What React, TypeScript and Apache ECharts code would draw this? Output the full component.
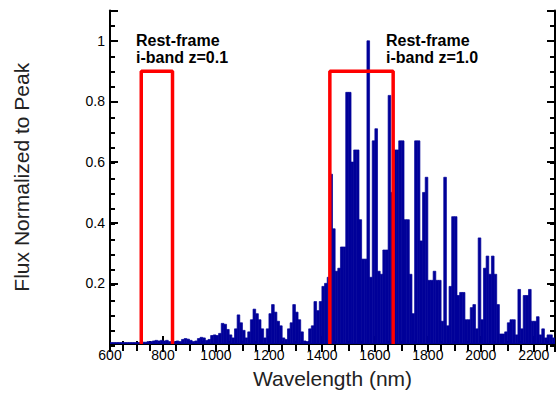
import React, { useEffect, useRef } from "react";
import * as echarts from "echarts";

// Histogram: bins of 10 nm starting at 600 nm
const binStartNm = 600;
const binWidthNm = 10;
const fluxValues = [
  0.005, 0.005, 0.005, 0.005, 0.005, 0.005, 0.005, 0.005, 0.005, 0.005, 0.005, 0.005,
  0.006, 0.006, 0.008, 0.008, 0.01, 0.012, 0.01, 0.012, 0.01, 0.012, 0.008, 0.006, 0.008, 0.01, 0.008,
  0.015, 0.018, 0.016, 0.012, 0.008, 0.01, 0.018, 0.022, 0.02, 0.012, 0.015, 0.028, 0.03,
  0.028, 0.035, 0.068, 0.065, 0.048, 0.03, 0.02, 0.05, 0.096, 0.07,
  0.045, 0.02, 0.04, 0.08, 0.115, 0.1, 0.08, 0.05, 0.02, 0.05,
  0.1, 0.13, 0.105, 0.075, 0.06, 0.02, 0.015, 0.05, 0.07, 0.13,
  0.105, 0.08, 0.04, 0.01, 0.008, 0.05, 0.06, 0.14, 0.11, 0.14,
  0.19, 0.2, 0.22, 0.56, 0.38, 0.24, 0.25, 0.32, 0.32, 0.83,
  0.83, 0.6, 0.64, 0.64, 0.41, 0.28, 0.28, 1.0, 0.22, 0.67,
  0.71, 0.24, 0.23, 0.31, 0.31, 0.82, 0.5, 0.64, 0.64, 0.67,
  0.67, 0.41, 0.41, 0.23, 0.1, 0.67, 0.67, 0.34, 0.5, 0.55,
  0.21, 0.21, 0.24, 0.21, 0.21, 0.075, 0.55, 0.06, 0.19, 0.42,
  0.42, 0.16, 0.17, 0.17, 0.08, 0.08, 0.12, 0.13, 0.05, 0.35,
  0.08, 0.25, 0.29, 0.23, 0.29, 0.23, 0.13, 0.033, 0.033, 0.04,
  0.07, 0.08, 0.08, 0.03, 0.18, 0.05, 0.16, 0.16, 0.18, 0.075,
  0.075, 0.09, 0.03, 0.05, 0.02, 0.03, 0.03, 0.02,
];

// Rest-frame i-band windows [start nm, end nm, height]
const bandZ01 = [718, 836, 0.9];
const bandZ10 = [1430, 1669, 0.9];
const bandLabels = ["Rest-frame\ni-band z=0.1", "Rest-frame\ni-band z=1.0"];

const xMin = 600;
const xMax = 2280;
const yMin = 0;
const yMax = 1.1;

const FONT = "'Liberation Sans', Arial, Helvetica, sans-serif";

function boxPoints(b: number[]) {
  return [
    [b[0], 0],
    [b[0], b[2]],
    [b[1], b[2]],
    [b[1], 0],
  ];
}

export default function App() {
  const ref = useRef<HTMLDivElement>(null);

  useEffect(() => {
    if (!ref.current) return;
    const chart = echarts.init(ref.current, undefined, { renderer: "svg" });
    const bins = fluxValues.map((v, i) => [binStartNm + i * binWidthNm, v]);

    const gridRect = { left: 110, right: 1, top: 10.5, bottom: 48 };
    const line = { show: true, lineStyle: { color: "#000", width: 2 } };
    const majorTick = (len: number) => ({
      show: true,
      inside: true,
      length: len,
      lineStyle: { color: "#000", width: 2 },
    });

    const option: any = {
      animation: false,
      backgroundColor: "#fff",
      grid: [
        { ...gridRect, containLabel: false },
        { ...gridRect, containLabel: false },
      ],
      xAxis: [
        {
          gridIndex: 0,
          type: "value",
          position: "bottom",
          min: xMin,
          max: xMax,
          interval: 200,
          axisLine: line,
          axisTick: majorTick(8),
          splitLine: { show: false },
          axisLabel: {
            show: true,
            margin: 4,
            color: "#000",
            fontSize: 14,
            fontFamily: FONT,
            showMaxLabel: false,
            formatter: (v: number) => (v > 2200 ? "" : String(v)),
          },
          name: "Wavelength (nm)",
          nameLocation: "middle",
          nameGap: 24,
          nameTextStyle: { color: "#222", fontSize: 21, fontFamily: FONT },
        },
        {
          gridIndex: 0,
          type: "value",
          position: "top",
          min: xMin,
          max: xMax,
          interval: 200,
          axisLine: line,
          axisTick: majorTick(8),
          splitLine: { show: false },
          axisLabel: { show: false },
        },
        {
          gridIndex: 1,
          type: "value",
          position: "bottom",
          min: xMin,
          max: xMax,
          interval: 50,
          axisLine: { show: false },
          axisTick: majorTick(5),
          splitLine: { show: false },
          axisLabel: { show: false },
        },
        {
          gridIndex: 1,
          type: "value",
          position: "top",
          min: xMin,
          max: xMax,
          interval: 50,
          axisLine: { show: false },
          axisTick: majorTick(5),
          splitLine: { show: false },
          axisLabel: { show: false },
        },
      ],
      yAxis: [
        {
          gridIndex: 0,
          type: "value",
          position: "left",
          min: yMin,
          max: yMax,
          interval: 0.2,
          axisLine: line,
          axisTick: majorTick(8),
          splitLine: { show: false },
          axisLabel: {
            show: true,
            margin: 5,
            color: "#000",
            fontSize: 14,
            fontFamily: FONT,
            formatter: (v: number) => {
              if (v <= 0 || v > 1.0001) return "";
              return String(Number(v.toFixed(1)));
            },
          },
          name: "Flux Normalized to Peak",
          nameLocation: "middle",
          nameGap: 78,
          nameTextStyle: { color: "#222", fontSize: 21, fontFamily: FONT },
        },
        {
          gridIndex: 0,
          type: "value",
          position: "right",
          min: yMin,
          max: yMax,
          interval: 0.2,
          axisLine: line,
          axisTick: majorTick(8),
          splitLine: { show: false },
          axisLabel: { show: false },
        },
        {
          gridIndex: 1,
          type: "value",
          position: "left",
          min: yMin,
          max: yMax,
          interval: 0.05,
          axisLine: { show: false },
          axisTick: majorTick(5),
          splitLine: { show: false },
          axisLabel: { show: false },
        },
        {
          gridIndex: 1,
          type: "value",
          position: "right",
          min: yMin,
          max: yMax,
          interval: 0.05,
          axisLine: { show: false },
          axisTick: majorTick(5),
          splitLine: { show: false },
          axisLabel: { show: false },
        },
      ],
      series: [
        {
          type: "custom",
          xAxisIndex: 0,
          yAxisIndex: 0,
          data: bins,
          clip: true,
          z: 2,
          renderItem: (params: any, api: any) => {
            const x0 = api.value(0);
            const v = api.value(1);
            const p0 = api.coord([x0, 0]);
            const p1 = api.coord([x0 + binWidthNm, v]);
            return {
              type: "rect",
              shape: {
                x: p0[0],
                y: p1[1],
                width: p1[0] - p0[0],
                height: p0[1] - p1[1],
              },
              style: { fill: "#000099", stroke: "#000099", lineWidth: 0.7 },
            };
          },
        },
        {
          type: "line",
          xAxisIndex: 0,
          yAxisIndex: 0,
          data: boxPoints(bandZ01),
          symbol: "none",
          z: 5,
          lineStyle: { color: "#ff0000", width: 3.5 },
        },
        {
          type: "line",
          xAxisIndex: 0,
          yAxisIndex: 0,
          data: boxPoints(bandZ10),
          symbol: "none",
          z: 5,
          lineStyle: { color: "#ff0000", width: 3.5 },
        },
      ],
      graphic: [
        {
          type: "text",
          left: 136,
          top: 32,
          z: 10,
          style: {
            text: bandLabels[0],
            fill: "#000",
            font: `bold 16px ${FONT}`,
            lineHeight: 17,
          },
        },
        {
          type: "text",
          left: 386,
          top: 32,
          z: 10,
          style: {
            text: bandLabels[1],
            fill: "#000",
            font: `bold 16px ${FONT}`,
            lineHeight: 17,
          },
        },
      ],
    };

    chart.setOption(option);
    return () => chart.dispose();
  }, []);

  return (
    <div
      ref={ref}
      style={{ position: "fixed", left: 0, top: 0, width: 556, height: 394 }}
    />
  );
}
